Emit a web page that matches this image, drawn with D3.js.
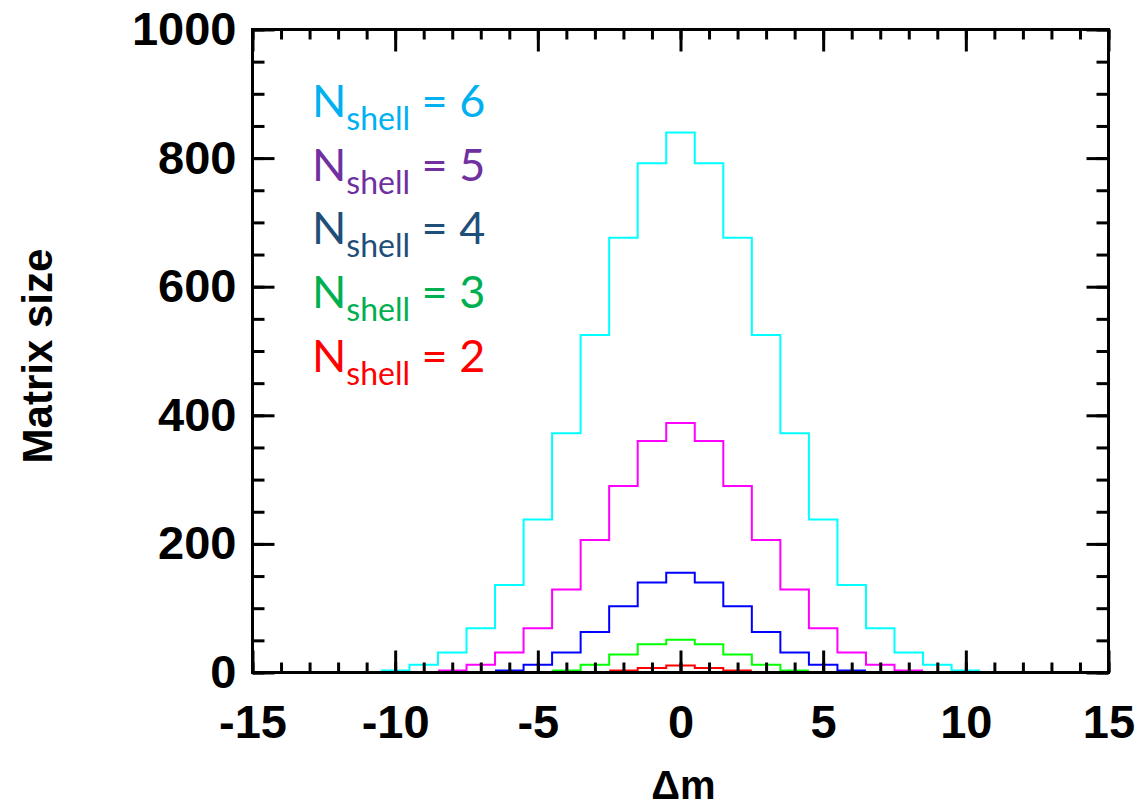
<!DOCTYPE html>
<html>
<head>
<meta charset="utf-8">
<script src="https://cdn.jsdelivr.net/npm/d3@7"></script>
<style>
  body { margin: 0; background: #fff; }
  svg { display: block; }
</style>
</head>
<body>
<div id="chart"></div>
<script>
// matrix size per delta-m bin (symmetric around 0)
const shell6 = [3, 12, 31, 69, 136, 238, 372, 525, 676, 792, 840, 792, 676, 525, 372, 238, 136, 69, 31, 12, 3];
const shell5 = [3, 12, 31, 69, 129, 206, 290, 360, 388, 360, 290, 206, 129, 69, 31, 12, 3];
const shell4 = [3, 12, 31, 63, 103, 140, 155, 140, 103, 63, 31, 12, 3];
const shell3 = [3, 12, 28, 44, 51, 44, 28, 12, 3];
const shell2 = [3, 7, 11, 7, 3];

const series = [
  { n: 6, values: shell6, line: '#00ffff', text: '#00b0f0' },
  { n: 5, values: shell5, line: '#ff00ff', text: '#7030a0' },
  { n: 4, values: shell4, line: '#0000ff', text: '#1f4e79' },
  { n: 3, values: shell3, line: '#00ff00', text: '#00b050' },
  { n: 2, values: shell2, line: '#ff0000', text: '#ff0000' }
];

const xTicks = [-15, -10, -5, 0, 5, 10, 15];
const yTicks = [0, 200, 400, 600, 800, 1000];

const width = 1143, height = 809;
const plotL = 252.5, plotR = 1108.5, plotT = 29.5, plotB = 672.5;

const svg = d3.select('#chart').append('svg')
  .attr('width', width)
  .attr('height', height);

const x = d3.scaleLinear().domain([-15, 15]).range([plotL, plotR]);
const y = d3.scaleLinear().domain([0, 1000]).range([plotB, plotT]);

// step outlines, each bin is 1 wide and centered on the integer
const line = d3.line()
  .x(d => x(d[0]))
  .y(d => y(d[1]))
  .curve(d3.curveStepAfter);

series.slice().reverse().forEach(s => {
  const half = (s.values.length - 1) / 2;
  const pts = s.values.map((v, i) => [i - half - 0.5, v]);
  pts.push([half + 0.5, s.values[s.values.length - 1]]);
  svg.append('path')
    .attr('d', line(pts))
    .attr('fill', 'none')
    .attr('stroke', s.line)
    .attr('stroke-width', 2);
});

// axes, ticks pointing inward on all four sides
function styleAxis(g) {
  g.select('.domain').remove();
  g.selectAll('line').attr('stroke', '#000').attr('stroke-width', 3);
}
const minorX = d3.range(-15, 16, 1);
const minorY = d3.range(0, 1001, 50);

svg.append('g').attr('transform', `translate(0,${plotB})`)
  .call(d3.axisBottom(x).tickValues(minorX).tickSize(-10).tickFormat(''))
  .call(styleAxis);
svg.append('g').attr('transform', `translate(0,${plotB})`)
  .call(d3.axisBottom(x).tickValues(xTicks).tickSize(-22).tickPadding(32).tickFormat(d3.format('d')))
  .call(styleAxis)
  .call(g => g.selectAll('text')
    .attr('font-family', 'Liberation Sans, Arial, sans-serif')
    .attr('font-size', 47).attr('font-weight', 'bold').attr('fill', '#000')
    .text(d => d < 0 ? '-' + Math.abs(d) : d));

svg.append('g').attr('transform', `translate(0,${plotT})`)
  .call(d3.axisTop(x).tickValues(minorX).tickSize(-10).tickFormat(''))
  .call(styleAxis);
svg.append('g').attr('transform', `translate(0,${plotT})`)
  .call(d3.axisTop(x).tickValues(xTicks).tickSize(-22).tickFormat(''))
  .call(styleAxis);

svg.append('g').attr('transform', `translate(${plotL},0)`)
  .call(d3.axisLeft(y).tickValues(minorY).tickSize(-12).tickFormat(''))
  .call(styleAxis);
svg.append('g').attr('transform', `translate(${plotL},0)`)
  .call(d3.axisLeft(y).tickValues(yTicks).tickSize(-22).tickPadding(16).tickFormat(d3.format('d')))
  .call(styleAxis)
  .call(g => g.selectAll('text')
    .attr('font-family', 'Liberation Sans, Arial, sans-serif')
    .attr('font-size', 47).attr('font-weight', 'bold').attr('fill', '#000'));

svg.append('g').attr('transform', `translate(${plotR},0)`)
  .call(d3.axisRight(y).tickValues(minorY).tickSize(-12).tickFormat(''))
  .call(styleAxis);
svg.append('g').attr('transform', `translate(${plotR},0)`)
  .call(d3.axisRight(y).tickValues(yTicks).tickSize(-22).tickFormat(''))
  .call(styleAxis);

// frame
svg.append('rect')
  .attr('x', plotL).attr('y', plotT)
  .attr('width', plotR - plotL).attr('height', plotB - plotT)
  .attr('fill', 'none').attr('stroke', '#000').attr('stroke-width', 3);

// axis titles
svg.append('text')
  .attr('transform', `translate(52,356) rotate(-90)`)
  .attr('text-anchor', 'middle')
  .attr('font-family', 'Liberation Sans, Arial, sans-serif')
  .attr('font-size', 42).attr('font-weight', 'bold')
  .text('Matrix size');

svg.append('text')
  .attr('x', x(0) + 3).attr('y', 799)
  .attr('text-anchor', 'middle')
  .attr('font-family', 'Liberation Sans, Arial, sans-serif')
  .attr('font-size', 40).attr('font-weight', 'bold')
  .text('\u0394m');

// legend
series.forEach((s, i) => {
  const t = svg.append('text')
    .attr('x', 312).attr('y', 117 + i * 63.7)
    .attr('font-family', 'Lato, sans-serif')
    .attr('font-size', 45)
    .attr('fill', s.text);
  t.append('tspan').text('N');
  t.append('tspan').attr('font-size', 32).attr('dy', 13).text('shell');
  t.append('tspan').attr('dy', -13).text(' = ' + s.n);
});
</script>
</body>
</html>
